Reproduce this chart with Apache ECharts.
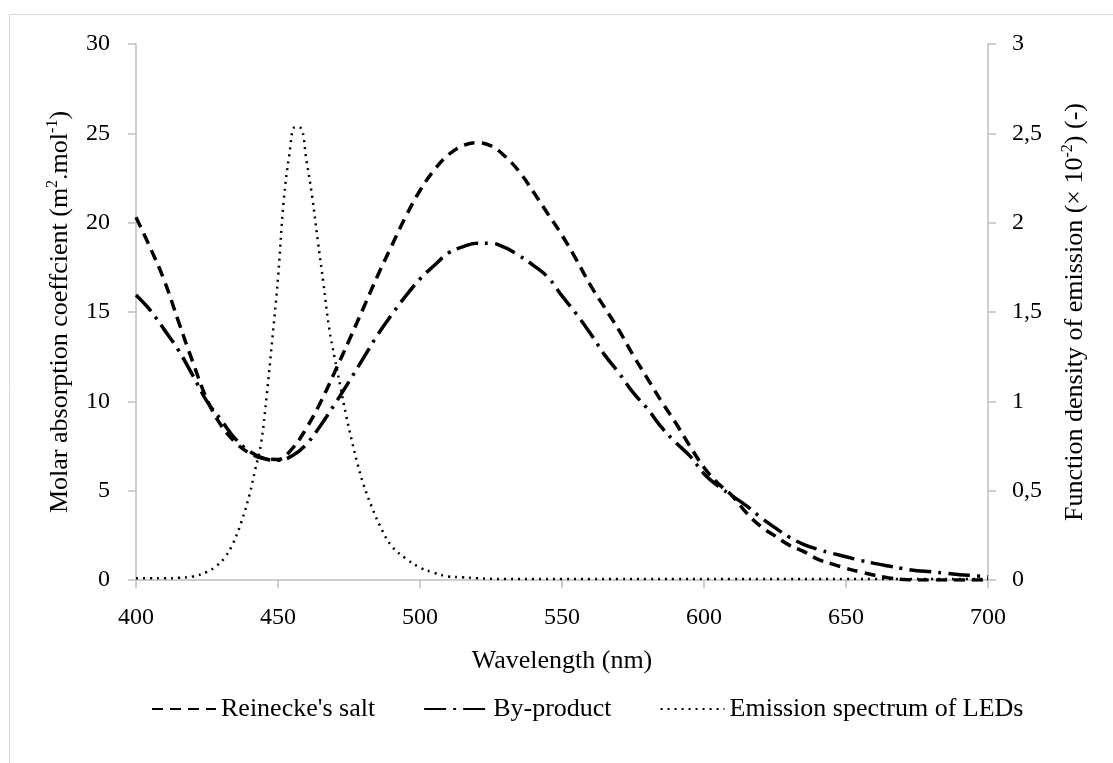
<!DOCTYPE html>
<html>
<head>
<meta charset="utf-8">
<script src="https://cdn.jsdelivr.net/npm/echarts@6/dist/echarts.min.js"></script>
<style>
html, body { margin: 0; background: #fff; }
#main { width: 1113px; height: 763px; }
</style>
</head>
<body>
<div id="main"></div>
<script>
// wavelength grid (nm) for the two absorption curves
var wavelengths = [400, 405, 410, 415, 420, 425, 430, 435, 440, 445, 450,
    455, 460, 465, 470, 475, 480, 485, 490, 495, 500,
    505, 510, 515, 520, 525, 530, 535, 540, 545, 550,
    555, 560, 565, 570, 575, 580, 585, 590, 595, 600,
    605, 610, 615, 620, 625, 630, 635, 640, 645, 650,
    655, 660, 665, 670, 675, 680, 685, 690, 695, 700];

// molar absorption coefficient (m2.mol-1)
var reinecke = [20.3, 18.6, 16.75, 14.45, 12.2, 10.1, 8.65, 7.7, 7.1, 6.8, 6.75,
    7.35, 8.5, 9.95, 11.65, 13.4, 15.2, 17.0, 18.7, 20.35, 21.8,
    22.95, 23.8, 24.3, 24.47, 24.3, 23.7, 22.85, 21.7, 20.5, 19.3,
    17.95, 16.5, 15.25, 14.0, 12.6, 11.3, 10.0, 8.8, 7.5, 6.3,
    5.4, 4.7, 3.75, 3.0, 2.47, 1.95, 1.6, 1.17, 0.9, 0.66,
    0.45, 0.27, 0.12, 0.03, 0, 0, 0, 0, 0, 0];

var byProduct = [15.95, 15.1, 14.0, 12.85, 11.45, 10.0, 8.95, 7.9, 7.2, 6.8, 6.7,
    6.95, 7.6, 8.65, 9.85, 11.1, 12.4, 13.7, 14.85, 15.9, 16.85,
    17.6, 18.3, 18.65, 18.85, 18.85, 18.6, 18.15, 17.6, 16.95, 15.9,
    14.9, 13.8, 12.6, 11.6, 10.5, 9.6, 8.55, 7.7, 6.95, 5.95,
    5.25, 4.7, 4.15, 3.5, 2.93, 2.4, 2.0, 1.72, 1.5, 1.3,
    1.1, 0.93, 0.78, 0.64, 0.52, 0.46, 0.38, 0.3, 0.24, 0.18];

// LED emission (x 10^-2), right axis
var ledWavelengths = [400, 405, 410, 415, 420, 425, 428, 431, 434, 437, 440,
    442, 444, 446, 448, 450, 452, 454, 456, 458, 460,
    462, 464, 466, 468, 470, 472, 474, 476, 478, 480,
    483, 486, 490, 495, 500, 505, 510, 515, 520,
    530, 540, 550, 560, 570, 580, 590, 600, 610,
    620, 630, 640, 650, 660, 670, 680, 690, 700];
var ledEmission = [0.01, 0.01, 0.01, 0.012, 0.02, 0.045, 0.075, 0.12, 0.2, 0.32, 0.48,
    0.62, 0.76, 1.03, 1.35, 1.69, 2.12, 2.38, 2.535, 2.53, 2.35,
    2.15, 1.9, 1.66, 1.41, 1.24, 1.08, 0.92, 0.78, 0.65, 0.54,
    0.41, 0.3, 0.19, 0.12, 0.07, 0.04, 0.02, 0.015, 0.01,
    0.005, 0.005, 0.005, 0.005, 0.005, 0.005, 0.005, 0.005, 0.005,
    0.005, 0.005, 0.005, 0.005, 0.005, 0.005, 0.005, 0.005, 0.005];

var seriesNames = ["Reinecke's salt", 'By-product', 'Emission spectrum of LEDs'];

function pairs(xs, ys) {
    return xs.map(function (x, i) { return [x, ys[i]]; });
}

var font = 'Liberation Serif';
var axisGray = '#bfbfbf';
var sup = { fontSize: 16, lineHeight: 16, verticalAlign: 'top', fontFamily: font, color: '#000' };

var myChart = echarts.init(document.getElementById('main'));

var option = {
    animation: false,
    backgroundColor: '#fff',
    textStyle: { fontFamily: font, color: '#000' },
    graphic: [{
        type: 'rect',
        shape: { x: 9.5, y: 14.5, width: 1200, height: 900 },
        style: { fill: 'none', stroke: '#d9d9d9', lineWidth: 1 },
        silent: true
    }],
    grid: { left: 136, right: 125, top: 44, bottom: 183 },
    legend: {
        bottom: 36,
        left: 146,
        itemWidth: 64,
        itemHeight: 14,
        itemGap: 48,
        itemStyle: { opacity: 0 },
        textStyle: { fontFamily: font, fontSize: 26, color: '#000' },
        data: seriesNames
    },
    xAxis: {
        type: 'value',
        min: 400, max: 700, interval: 50,
        name: 'Wavelength (nm)',
        nameLocation: 'middle',
        nameGap: 68,
        nameTextStyle: { fontFamily: font, fontSize: 26, color: '#000' },
        axisLine: { lineStyle: { color: axisGray, width: 1.5 } },
        axisTick: { length: 8, lineStyle: { color: axisGray, width: 1.5 } },
        axisLabel: { margin: 26, fontFamily: font, fontSize: 24, color: '#000' },
        splitLine: { show: false }
    },
    yAxis: [{
        type: 'value',
        min: 0, max: 30, interval: 5,
        name: 'Molar absorption coeffcient (m{sup|2}.mol{sup|-1})',
        nameLocation: 'middle',
        nameRotate: 90,
        nameGap: 58,
        nameTextStyle: { fontFamily: font, fontSize: 26, color: '#000', lineHeight: 30, rich: { sup: sup } },
        axisLine: { show: true, lineStyle: { color: axisGray, width: 1.5 } },
        axisTick: { show: true, length: 8, lineStyle: { color: axisGray, width: 1.5 } },
        axisLabel: { margin: 26, fontFamily: font, fontSize: 24, color: '#000' },
        splitLine: { show: false }
    }, {
        type: 'value',
        min: 0, max: 3, interval: 0.5,
        position: 'right',
        name: 'Function density of emission (\u00d7 10{sup|-2}) (-)',
        nameLocation: 'middle',
        nameRotate: 90,
        nameGap: 72,
        nameTextStyle: { fontFamily: font, fontSize: 26, color: '#000', lineHeight: 30, rich: { sup: sup } },
        axisLine: { show: true, lineStyle: { color: axisGray, width: 1.5 } },
        axisTick: { show: true, length: 8, lineStyle: { color: axisGray, width: 1.5 } },
        axisLabel: {
            margin: 24, fontFamily: font, fontSize: 24, color: '#000',
            formatter: function (v) { return String(v).replace('.', ','); }
        },
        splitLine: { show: false }
    }],
    series: [{
        name: seriesNames[0],
        type: 'line',
        smooth: 0.4,
        symbol: 'none',
        data: pairs(wavelengths, reinecke),
        lineStyle: { color: '#000', width: 3.5, type: [11, 7] },
        itemStyle: { color: '#000' }
    }, {
        name: seriesNames[1],
        type: 'line',
        smooth: 0.4,
        symbol: 'none',
        data: pairs(wavelengths, byProduct),
        lineStyle: { color: '#000', width: 3.5, type: [22, 7, 3, 7] },
        itemStyle: { color: '#000' }
    }, {
        name: seriesNames[2],
        type: 'line',
        yAxisIndex: 1,
        smooth: 0.4,
        symbol: 'none',
        data: pairs(ledWavelengths, ledEmission),
        lineStyle: { color: '#000', width: 2.5, type: [2, 5] },
        itemStyle: { color: '#000' }
    }]
};

myChart.setOption(option);
</script>
</body>
</html>
